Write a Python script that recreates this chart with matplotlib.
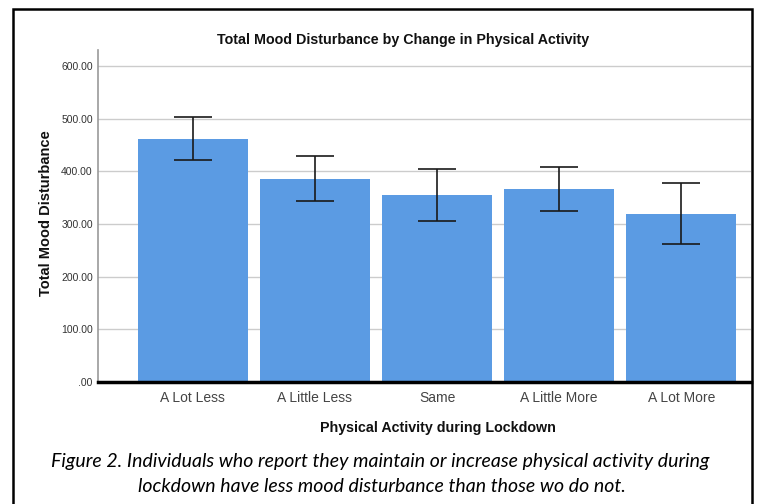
import matplotlib.pyplot as plt
from matplotlib.patches import Rectangle

categories = ["A Lot Less", "A Little Less", "Same", "A Little More", "A Lot More"]
means = [462, 385, 354, 366, 319]
ci_low = [421, 343, 305, 325, 262]
ci_high = [502, 429, 404, 408, 377]

yticks = [0, 100, 200, 300, 400, 500, 600]
ytick_labels = [".00", "100.00", "200.00", "300.00", "400.00", "500.00", "600.00"]

bar_color = "#5b9be3"

plt.rcParams["font.family"] = ["Liberation Sans", "DejaVu Sans"]

fig = plt.figure(figsize=(7.57, 5.04), dpi=100)
ax = fig.add_axes([0.130, 0.2421, 0.862, 0.6587])

x = list(range(len(categories)))
yerr = [[m - lo for m, lo in zip(means, ci_low)], [hi - m for m, hi in zip(means, ci_high)]]
ax.bar(x, means, width=0.9, color=bar_color, zorder=2)
ax.errorbar(x, means, yerr=yerr, fmt="none", ecolor="#1a1a1a", elinewidth=1.2,
            capsize=14, capthick=1.2, zorder=3)

ax.set_xlim(-0.773, 4.57)
ax.set_ylim(0, 630)
ax.set_yticks(yticks)
ax.set_yticklabels(ytick_labels, fontsize=7.5, color="#333333")
ax.set_xticks(x)
ax.set_xticklabels(categories, fontsize=10, color="#444444")
ax.tick_params(axis="both", length=0)
ax.tick_params(axis="y", pad=4)
ax.tick_params(axis="x", pad=6.5)

ax.grid(axis="y", color="#cccccc", linewidth=1, zorder=0)
ax.set_axisbelow(True)
for s in ("top", "right"):
    ax.spines[s].set_visible(False)
ax.spines["left"].set_color("#999999")
ax.spines["left"].set_linewidth(1.2)
ax.spines["bottom"].set_color("black")
ax.spines["bottom"].set_linewidth(2.5)
ax.spines["bottom"].set_zorder(4)

ax.set_title("Total Mood Disturbance by Change in Physical Activity",
             fontsize=10.3, fontweight="bold", color="#111111", pad=4, x=0.467)
ax.set_ylabel("Total Mood Disturbance", fontsize=10.5, fontweight="bold", color="#111111")
ax.yaxis.set_label_coords(-0.070, 0.51)
ax.set_xlabel("Physical Activity during Lockdown", fontsize=10.3, fontweight="bold", color="#111111")
ax.xaxis.set_label_coords(0.52, -0.119)

caption_font = ["Lato", "DejaVu Sans"]
fig.text(0.502, 1 - 462 / 504, "Figure 2. Individuals who report they maintain or increase physical activity during",
         ha="center", va="center", fontsize=14, style="italic", family=caption_font)
fig.text(0.504, 1 - 487 / 504, "lockdown have less mood disturbance than those wo do not.",
         ha="center", va="center", fontsize=14, style="italic", family=caption_font)

fig.patches.append(Rectangle((13 / 757, -0.05), (752 - 13) / 757, 1.05 - 9 / 504,
                             transform=fig.transFigure, fill=False, edgecolor="black",
                             linewidth=1.8))

fig.savefig("out.png", dpi=100)
